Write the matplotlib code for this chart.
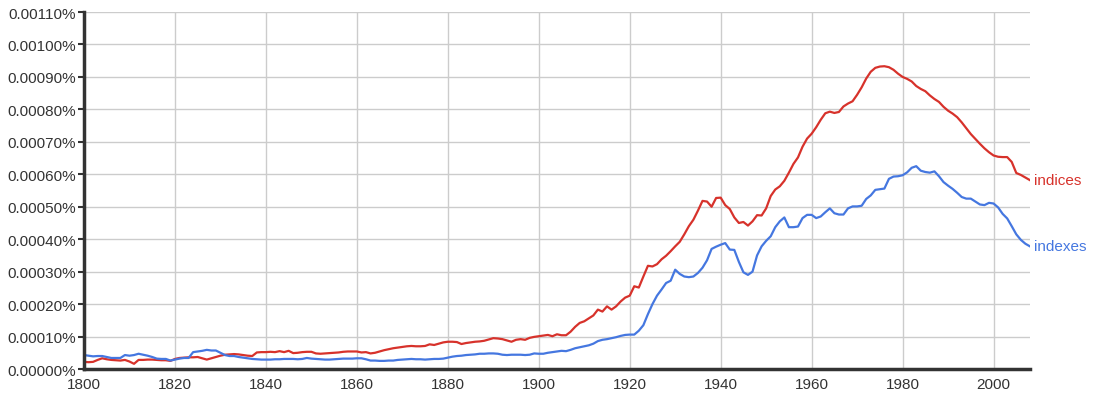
import matplotlib
matplotlib.use("Agg")
import matplotlib.pyplot as plt
import matplotlib.ticker as mticker
import numpy as np

plt.rcParams['font.family'] = ['Liberation Sans', 'DejaVu Sans']

years = np.arange(1800, 2009)

# frequencies in units of 0.00001 %
indices = [
    2.2, 2.1, 2.2, 2.8, 3.3, 3.0, 2.8, 2.7, 2.6, 2.8,   # 1800
    2.3, 1.6, 2.8, 2.8, 2.9, 2.9, 2.8, 2.7, 2.7, 2.5,   # 1810
    3.1, 3.4, 3.5, 3.6, 3.6, 3.7, 3.3, 2.9, 3.3, 3.7,   # 1820
    4.1, 4.4, 4.5, 4.6, 4.5, 4.3, 4.1, 4.0, 5.1, 5.2,   # 1830
    5.2, 5.3, 5.2, 5.5, 5.2, 5.6, 4.9, 5.0, 5.2, 5.3,   # 1840
    5.3, 4.8, 4.7, 4.8, 4.9, 5.0, 5.1, 5.3, 5.4, 5.4,   # 1850
    5.4, 5.1, 5.2, 4.8, 5.0, 5.4, 5.8, 6.1, 6.4, 6.6,   # 1860
    6.8, 7.0, 7.1, 7.0, 7.0, 7.1, 7.6, 7.4, 7.8, 8.2,   # 1870
    8.4, 8.4, 8.3, 7.7, 8.0, 8.2, 8.4, 8.5, 8.7, 9.1,   # 1880
    9.5, 9.4, 9.2, 8.8, 8.4, 9.0, 9.2, 9.0, 9.6, 9.9,   # 1890
    10.1, 10.3, 10.5, 10.1, 10.7, 10.4, 10.4, 11.5, 13.0, 14.2,  # 1900
    14.7, 15.6, 16.5, 18.3, 17.7, 19.3, 18.3, 19.3, 20.8, 22.0,  # 1910
    22.6, 25.5, 25.1, 28.5, 31.8, 31.6, 32.3, 33.8, 34.9, 36.3,  # 1920
    37.8, 39.2, 41.5, 44.0, 46.0, 48.8, 51.8, 51.6, 50.0, 52.7,  # 1930
    52.8, 50.5, 49.3, 46.7, 45.0, 45.3, 44.2, 45.5, 47.4, 47.3,  # 1940
    49.5, 53.3, 55.3, 56.3, 58.0, 60.5, 63.2, 65.2, 68.5, 71.0,  # 1950
    72.5, 74.5, 76.8, 78.8, 79.3, 78.9, 79.2, 80.9, 81.8, 82.5,  # 1960
    84.5, 86.8, 89.5, 91.6, 92.8, 93.2, 93.3, 93.0, 92.2, 91.0,  # 1970
    90.0, 89.4, 88.6, 87.2, 86.3, 85.6, 84.3, 83.2, 82.3, 80.8,  # 1980
    79.6, 78.7, 77.6, 76.0, 74.2, 72.4, 70.9, 69.4, 68.0, 66.8,  # 1990
    65.8, 65.4, 65.3, 65.3, 63.8, 60.4, 59.8, 59.0, 58.2,        # 2000
]

indexes = [
    4.3, 4.1, 3.9, 4.0, 4.0, 3.7, 3.4, 3.4, 3.4, 4.3,   # 1800
    4.1, 4.3, 4.7, 4.4, 4.1, 3.7, 3.2, 3.1, 3.1, 2.6,   # 1810
    2.9, 3.2, 3.4, 3.4, 5.2, 5.4, 5.6, 5.9, 5.7, 5.7,   # 1820
    5.0, 4.3, 4.0, 4.0, 3.7, 3.5, 3.3, 3.1, 3.0, 2.9,   # 1830
    2.9, 2.9, 3.0, 3.0, 3.1, 3.1, 3.1, 3.0, 3.1, 3.4,   # 1840
    3.2, 3.1, 3.0, 2.9, 2.9, 3.0, 3.1, 3.2, 3.2, 3.2,   # 1850
    3.3, 3.3, 3.0, 2.6, 2.6, 2.5, 2.5, 2.6, 2.6, 2.8,   # 1860
    2.9, 3.0, 3.1, 3.0, 3.0, 2.9, 3.0, 3.1, 3.1, 3.2,   # 1870
    3.5, 3.8, 4.0, 4.1, 4.3, 4.4, 4.5, 4.7, 4.7, 4.8,   # 1880
    4.8, 4.7, 4.4, 4.3, 4.4, 4.4, 4.4, 4.3, 4.4, 4.8,   # 1890
    4.7, 4.7, 5.0, 5.2, 5.4, 5.6, 5.5, 5.9, 6.4, 6.7,   # 1900
    7.0, 7.3, 7.8, 8.6, 9.0, 9.2, 9.5, 9.8, 10.2, 10.5,  # 1910
    10.6, 10.6, 11.8, 13.5, 16.9, 20.0, 22.6, 24.5, 26.5, 27.2,  # 1920
    30.6, 29.3, 28.5, 28.3, 28.5, 29.6, 31.2, 33.5, 37.0, 37.7,  # 1930
    38.3, 38.8, 36.8, 36.7, 33.0, 29.8, 29.0, 30.0, 35.0, 37.8,  # 1940
    39.5, 40.9, 43.7, 45.5, 46.7, 43.7, 43.7, 43.9, 46.5, 47.5,  # 1950
    47.5, 46.5, 47.0, 48.3, 49.5, 48.0, 47.6, 47.6, 49.5, 50.1,  # 1960
    50.1, 50.3, 52.4, 53.5, 55.2, 55.4, 55.6, 58.6, 59.3, 59.4,  # 1970
    59.7, 60.6, 62.0, 62.5, 61.1, 60.7, 60.5, 60.9, 59.4, 57.6,  # 1980
    56.5, 55.5, 54.3, 53.0, 52.5, 52.5, 51.6, 50.7, 50.5, 51.2,  # 1990
    51.0, 49.8, 47.8, 46.4, 44.0, 41.5, 39.8, 38.6, 37.8,        # 2000
]

indices = np.array(indices) * 1e-5
indexes = np.array(indexes) * 1e-5

red = '#d7322b'
blue = '#4577e0'

fig = plt.figure(figsize=(10.98, 4.02), dpi=100)
ax = fig.add_axes([0.0765, 0.0796, 0.8615, 0.888])

ax.plot(years, indices, color=red, lw=1.6, solid_joinstyle='round')
ax.plot(years, indexes, color=blue, lw=1.6, solid_joinstyle='round')

ax.text(2009, indices[-1], 'indices', color=red, fontsize=11, va='center', ha='left')
ax.text(2009, indexes[-1], 'indexes', color=blue, fontsize=11, va='center', ha='left')

ax.set_xlim(1800, 2008)
ax.set_ylim(0, 0.0011)
ax.xaxis.set_major_locator(mticker.MultipleLocator(20))
ax.yaxis.set_major_locator(mticker.MultipleLocator(0.0001))
ax.yaxis.set_major_formatter(mticker.FuncFormatter(lambda v, p: f'{v:.5f}%'))

ax.grid(True, color='#cccccc', lw=1)
ax.set_axisbelow(True)
for s in ['top', 'right']:
    ax.spines[s].set_visible(False)
for s in ['left', 'bottom']:
    ax.spines[s].set_color('#333333')
    ax.spines[s].set_linewidth(2.5)

ax.tick_params(axis='both', colors='#333333', labelsize=11, width=1.5)
ax.tick_params(axis='y', length=4, pad=2)
ax.tick_params(axis='x', length=0, pad=6)

fig.savefig('out.png', dpi=100)
